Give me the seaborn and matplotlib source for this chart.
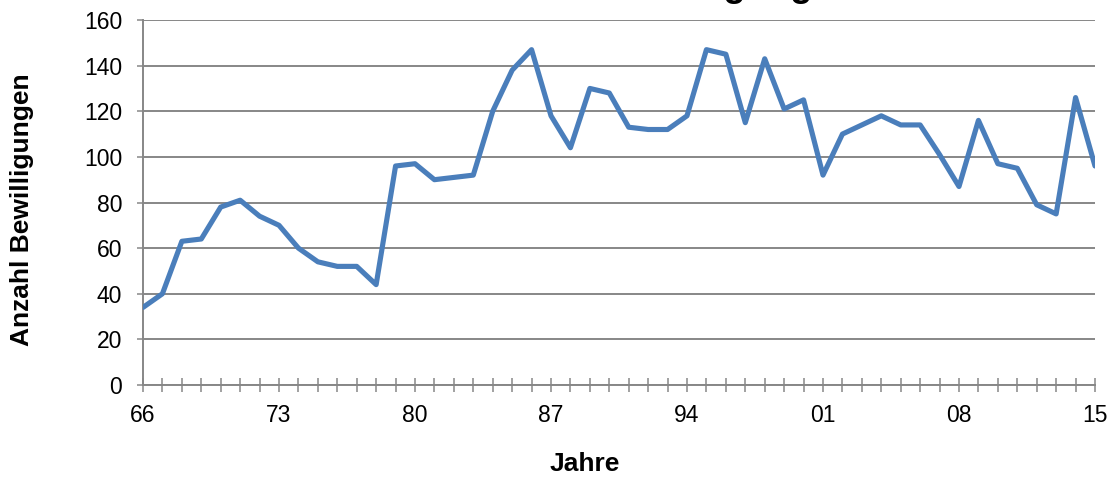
import numpy as np
import pandas as pd
import seaborn as sns
import matplotlib.pyplot as plt
from matplotlib.ticker import MultipleLocator, FuncFormatter

# Bewilligungen pro Jahr, 1966-2015
years = list(range(1966, 2016))
counts = [34, 40, 63, 64, 78, 81, 74, 70, 60, 54,
          52, 52, 44, 96, 97, 90, 91, 92, 120, 138,
          147, 118, 104, 130, 128, 113, 112, 112, 118, 147,
          145, 115, 143, 121, 125, 92, 110, 114, 118, 114,
          114, 101, 87, 116, 97, 95, 79, 75, 126, 96]
tick_years = [1966, 1973, 1980, 1987, 1994, 2001, 2008, 2015]

title = 'Anzahl Bewilligungen'
xlabel = 'Jahre'
ylabel = 'Anzahl Bewilligungen'


def main():
    df = pd.DataFrame({'Jahr': years, 'Anzahl': counts})

    sns.set_style('white')
    plt.rcParams['font.family'] = ['Liberation Sans', 'DejaVu Sans']

    W, H = 1109, 478
    fig = plt.figure(figsize=(W / 100, H / 100), dpi=100)
    ax = fig.add_axes([143 / W, 93 / H, (1095 - 143) / W, 365 / H])

    grid_col = '#878787'
    sns.lineplot(data=df, x='Jahr', y='Anzahl', ax=ax, color='#4a7ebb',
                 linewidth=3.7, zorder=3)

    ax.set_xlim(1966, 2015)
    ax.set_ylim(0, 160)
    ax.yaxis.set_major_locator(MultipleLocator(20))
    ax.set_xticks(tick_years)
    ax.xaxis.set_minor_locator(MultipleLocator(1))
    ax.xaxis.set_major_formatter(FuncFormatter(lambda v, p: f'{int(round(v)) % 100:02d}'))
    ax.grid(axis='y', color=grid_col, linewidth=1.4, zorder=1)

    for side in ['top', 'right']:
        ax.spines[side].set_visible(False)
    for side in ['left', 'bottom']:
        ax.spines[side].set_color(grid_col)
        ax.spines[side].set_linewidth(1.4)

    ax.tick_params(axis='y', left=True, direction='out', length=4.5, width=1.1,
                   color=grid_col, labelsize=16.5, pad=10.5, labelcolor='black')
    ax.tick_params(axis='x', which='both', bottom=True, direction='inout',
                   length=9.5, width=1.1, color=grid_col, labelsize=16.5,
                   pad=9, labelcolor='black')

    ax.set_xlabel('')
    ax.set_ylabel('')
    fig.text(585 / W, 1 - 464 / H, xlabel, ha='center', va='center',
             fontsize=19, fontweight='bold', color='black')
    fig.text(22 / W, 1 - 210 / H, ylabel, ha='center', va='center',
             rotation=90, fontsize=19, fontweight='bold', color='black')

    # chart title sits mostly above the visible area
    fig.text(478 / W, 1 + 4.5 / H, title, ha='left', va='baseline',
             fontsize=26.3, fontweight='bold', color='black')

    fig.savefig('out.png', dpi=100)


if __name__ == '__main__':
    main()
